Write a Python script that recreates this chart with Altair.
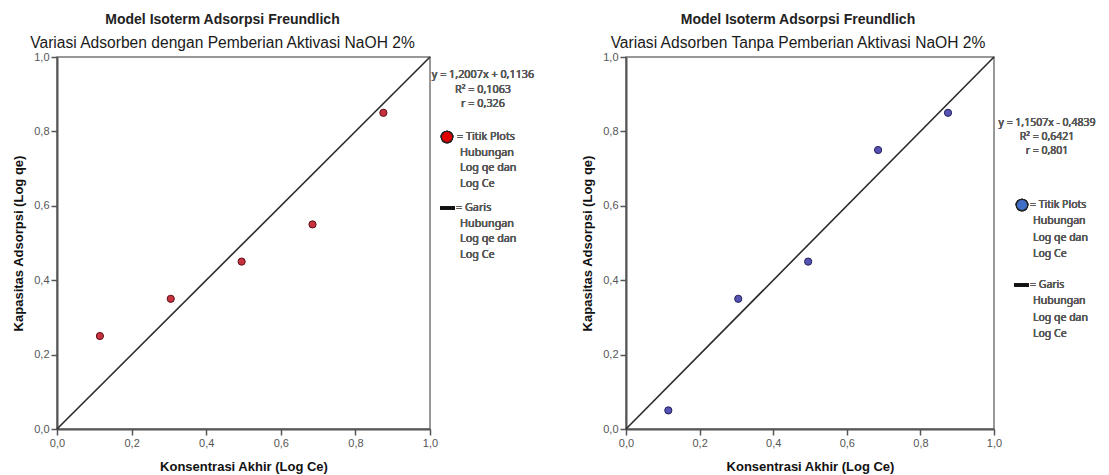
import altair as alt
import pandas as pd

# ---------------- data ----------------
tick_values = [0.0, 0.2, 0.4, 0.6, 0.8, 1.0]
line_x = [0.0, 1.0]
line_y = [0.0, 1.0]

x_with = [0.115, 0.305, 0.495, 0.685, 0.875]
y_with = [0.25, 0.35, 0.45, 0.55, 0.85]

x_without = [0.115, 0.305, 0.495, 0.685, 0.875]
y_without = [0.05, 0.35, 0.45, 0.75, 0.85]

title_main = "Model Isoterm Adsorpsi Freundlich"
subtitle_left = "Variasi Adsorben dengan Pemberian Aktivasi NaOH 2%"
subtitle_right = "Variasi Adsorben Tanpa Pemberian Aktivasi NaOH 2%"
x_title = "Konsentrasi Akhir (Log Ce)"
y_title = "Kapasitas Adsorpsi (Log qe)"

eq_left = ["y = 1,2007x + 0,1136", "R\u00b2 = 0,1063", "r = 0,326"]
eq_right = ["y = 1,1507x - 0,4839", "R\u00b2 = 0,6421", "r = 0,801"]
legend_point = ["= Titik Plots", "Hubungan", "Log qe dan", "Log Ce"]
legend_line = ["= Garis", "Hubungan", "Log qe dan", "Log Ce"]

FONT = "Liberation Sans"
NOTE_FONT = "Noto Sans"
label_expr = "replace(format(datum.value, '.1f'), '.', ',')"


def make_axis(title):
    return alt.Axis(
        title=title,
        values=tick_values,
        labelExpr=label_expr,
        grid=False,
        labelFlush=False,
        labelOverlap=False,
    )


def note(df, t, x, y, fs, align):
    return alt.Chart(df).mark_text(
        text=t, align=align, baseline="middle", font=NOTE_FONT,
        fontSize=fs, fontWeight="normal", color="#5a5a5a",
    ).encode(x=alt.value(x), y=alt.value(y))


def panel(xs, ys, subtitle, eq, fill, stroke, legend_fill, w, h, dx, notes):
    df = pd.DataFrame({"x": xs, "y": ys})
    ldf = pd.DataFrame({"x": line_x, "y": line_y})
    xs_scale = alt.Scale(domain=[0, 1], nice=False, zero=False)
    ys_scale = alt.Scale(domain=[0, 1], nice=False, zero=False)

    line = alt.Chart(ldf).mark_line(color="#2b2b2b", strokeWidth=1.6).encode(
        x=alt.X("x:Q", scale=xs_scale, axis=make_axis(x_title)),
        y=alt.Y("y:Q", scale=ys_scale, axis=make_axis(y_title)),
    )
    pts = alt.Chart(df).mark_point(
        filled=True, shape="circle", size=52, fill=fill, stroke=stroke,
        strokeWidth=1, opacity=1,
    ).encode(x="x:Q", y="y:Q")

    layers = [line, pts]

    (eq_x, eq_y, eq_dy, c_x, c_y, t_x, l_dy, ln_x1, ln_x2, ln_y, fs) = notes
    for i, t in enumerate(eq):
        layers.append(note(df, t, eq_x, eq_y + i * eq_dy, fs, "center"))
    # point legend symbol
    layers.append(
        alt.Chart(df).mark_point(
            filled=True, shape="circle", size=130, fill=legend_fill,
            stroke="#222", strokeWidth=1.2, opacity=1,
        ).encode(x=alt.value(c_x), y=alt.value(c_y))
    )
    for i, t in enumerate(legend_point):
        layers.append(note(df, t, t_x if i == 0 else t_x + 3,
                           c_y + i * l_dy, fs, "left"))
    # line legend symbol
    layers.append(
        alt.Chart(df).mark_rule(color="#111", strokeWidth=3).encode(
            x=alt.value(ln_x1), x2=alt.value(ln_x2), y=alt.value(ln_y)
        )
    )
    for i, t in enumerate(legend_line):
        layers.append(note(df, t, ln_x2 + 1 if i == 0 else t_x + 3,
                           ln_y + i * l_dy, fs, "left"))

    return alt.layer(*layers).properties(
        width=w,
        height=h,
        title=alt.TitleParams(
            text=title_main,
            subtitle=subtitle,
            font=FONT,
            fontSize=14,
            fontWeight="bold",
            color="#222",
            subtitleFont=FONT,
            subtitleFontSize=15.6,
            subtitleColor="#1a1a1a",
            subtitlePadding=9,
            anchor="middle",
            frame="group",
            dx=dx,
            offset=-1,
        ),
    )


left = panel(
    x_with, y_with, subtitle_left, eq_left, "#c8323f", "#5a1018", "#e00000",
    373, 372, -21,
    (426, 18, 14.5, 390, 80, 400, 15.5, 383, 398, 151, 10.8),
)
right = panel(
    x_without, y_without, subtitle_right, eq_right, "#5552b4", "#22205a",
    "#3f6fc6", 368, 372, -12,
    (421, 66, 14, 396, 148, 404, 16.3, 388, 403, 228, 10.5),
)

chart = alt.hconcat(left, right, spacing=45).properties(
    padding={"left": 3, "top": 4, "right": 0, "bottom": 0}
).configure_view(
    stroke="#777", strokeWidth=1.5
).configure_axis(
    domainColor="#555",
    domainWidth=2,
    tickColor="#555",
    tickWidth=1.5,
    tickSize=6,
    labelColor="#555",
    labelFont=FONT,
    labelFontSize=11,
    labelPadding=2,
    titleFont=FONT,
    titleFontSize=13,
    titleFontWeight="bold",
    titleColor="#111",
).configure_axisY(
    titlePadding=8,
).configure_axisX(
    titlePadding=12,
)

chart.save("out.html", embed_options={"renderer": "svg", "actions": False})
